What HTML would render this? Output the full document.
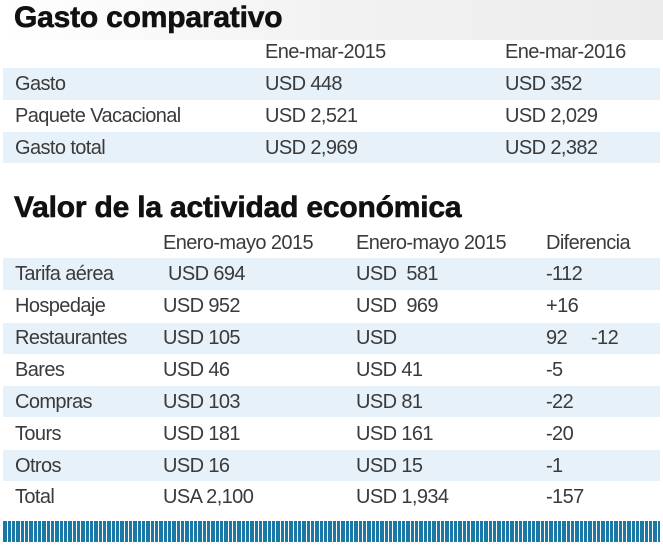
<!DOCTYPE html>
<html><head><meta charset="utf-8"><style>
html,body{margin:0;padding:0;width:663px;height:548px;background:#fff;overflow:hidden;}
body{position:relative;font-family:"Liberation Sans",sans-serif;color:#3a3a3a;}
.t{position:absolute;font-size:20px;line-height:24px;letter-spacing:-0.6px;white-space:pre;}
.h{position:absolute;font-weight:bold;font-size:30px;line-height:34px;letter-spacing:-0.2px;color:#111;white-space:pre;-webkit-text-stroke:0.6px #111;}
.band{position:absolute;left:3px;width:657px;background:#e7f1f9;}
.stripes{position:absolute;left:3px;width:657px;top:521px;height:21px;
background:repeating-linear-gradient(90deg,#1a78a6 0 4px,#fff 4px 5px,#1a78a6 5px 8px,#fff 8px 9px,#1a78a6 9px 12px,#fff 12px 13px);}
.top{position:absolute;left:0;top:0;width:663px;height:40px;background:linear-gradient(90deg,#fff 0%,#f2f2f2 50%,#ececec 100%);}
</style></head><body>
<div class="top"></div>
<div class="h" style="left:14px;top:1px">Gasto comparativo</div>
<div class="t" style="left:265px;top:40px">Ene-mar-2015</div>
<div class="t" style="left:505px;top:40px">Ene-mar-2016</div>
<div class="band" style="top:68px;height:32px"></div>
<div class="band" style="top:132px;height:31px"></div>
<div class="t" style="left:15px;top:72px">Gasto</div>
<div class="t" style="left:265px;top:72px">USD 448</div>
<div class="t" style="left:505px;top:72px">USD 352</div>
<div class="t" style="left:15px;top:104px">Paquete Vacacional</div>
<div class="t" style="left:265px;top:104px">USD 2,521</div>
<div class="t" style="left:505px;top:104px">USD 2,029</div>
<div class="t" style="left:15px;top:136px">Gasto total</div>
<div class="t" style="left:265px;top:136px">USD 2,969</div>
<div class="t" style="left:505px;top:136px">USD 2,382</div>

<div class="h" style="left:14px;top:191px">Valor de la actividad económica</div>
<div class="t" style="left:163px;top:231px">Enero-mayo 2015</div>
<div class="t" style="left:356px;top:231px">Enero-mayo 2015</div>
<div class="t" style="left:546px;top:231px">Diferencia</div>
<div class="band" style="top:258px;height:32px"></div>
<div class="band" style="top:323px;height:31px"></div>
<div class="band" style="top:386px;height:31px"></div>
<div class="band" style="top:450px;height:31px"></div>
<div class="t" style="left:15px;top:262px">Tarifa aérea</div>
<div class="t" style="left:168px;top:262px">USD 694</div>
<div class="t" style="left:356px;top:262px">USD  581</div>
<div class="t" style="left:546px;top:262px">-112</div>
<div class="t" style="left:15px;top:294px">Hospedaje</div>
<div class="t" style="left:163px;top:294px">USD 952</div>
<div class="t" style="left:356px;top:294px">USD  969</div>
<div class="t" style="left:546px;top:294px">+16</div>
<div class="t" style="left:15px;top:326px">Restaurantes</div>
<div class="t" style="left:163px;top:326px">USD 105</div>
<div class="t" style="left:356px;top:326px">USD</div>
<div class="t" style="left:546px;top:326px">92</div>
<div class="t" style="left:591px;top:326px">-12</div>
<div class="t" style="left:15px;top:358px">Bares</div>
<div class="t" style="left:163px;top:358px">USD 46</div>
<div class="t" style="left:356px;top:358px">USD 41</div>
<div class="t" style="left:546px;top:358px">-5</div>
<div class="t" style="left:15px;top:390px">Compras</div>
<div class="t" style="left:163px;top:390px">USD 103</div>
<div class="t" style="left:356px;top:390px">USD 81</div>
<div class="t" style="left:546px;top:390px">-22</div>
<div class="t" style="left:15px;top:422px">Tours</div>
<div class="t" style="left:163px;top:422px">USD 181</div>
<div class="t" style="left:356px;top:422px">USD 161</div>
<div class="t" style="left:546px;top:422px">-20</div>
<div class="t" style="left:15px;top:454px">Otros</div>
<div class="t" style="left:163px;top:454px">USD 16</div>
<div class="t" style="left:356px;top:454px">USD 15</div>
<div class="t" style="left:546px;top:454px">-1</div>
<div class="t" style="left:15px;top:485px">Total</div>
<div class="t" style="left:163px;top:485px">USA 2,100</div>
<div class="t" style="left:356px;top:485px">USD 1,934</div>
<div class="t" style="left:546px;top:485px">-157</div>
<div class="stripes"></div>
</body></html>
